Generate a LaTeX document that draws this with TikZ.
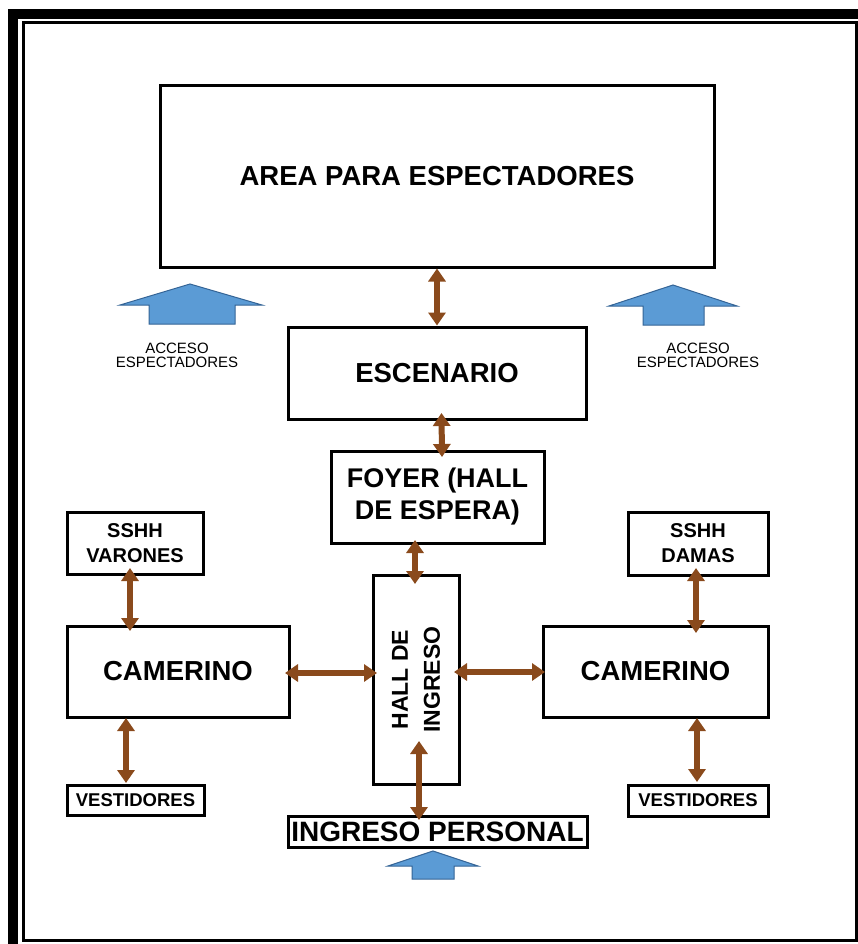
\documentclass[tikz,border=0pt]{standalone}
\usepackage{fontspec}
\setmainfont{Liberation Sans}
\usetikzlibrary{arrows.meta,calc}
\definecolor{brownarr}{RGB}{138,74,28}
\definecolor{bluefill}{RGB}{91,155,213}
\definecolor{blueedge}{RGB}{52,100,150}
\tikzset{
  box/.style={draw=black, line width=3pt, fill=white, inner sep=0pt, align=center, font=\bfseries\fontsize{27.5}{32}\selectfont},
  smallbox/.style={box, font=\bfseries\fontsize{20}{25}\selectfont},
  vestbox/.style={box, font=\bfseries\fontsize{18.5}{25}\selectfont},
  link/.style={draw=brownarr, line width=6pt, {Triangle[width=17pt,length=13pt]}-{Triangle[width=17pt,length=13pt]}},
  uparrow/.style={fill=bluefill, draw=blueedge, line width=1pt, line join=miter},
  acc/.style={font=\fontsize{15}{14.5}\selectfont, align=center, inner sep=0pt}
}
\begin{document}
\begin{tikzpicture}[x=1pt,y=-1pt]
\useasboundingbox (0,0) rectangle (858,944);
\fill[white] (0,0) rectangle (858,944);
% frame
\draw[line width=9.5pt] (12.8,14) rectangle (880,970);
\draw[line width=3pt] (23.5,22.5) rectangle (856.5,940.5);

% boxes
\node[box, minimum width=554pt, minimum height=181pt] (area) at (437,176.5) {AREA PARA ESPECTADORES};
\node[box, minimum width=298pt, minimum height=92pt] (esc) at (437,373) {ESCENARIO};
\node[box, minimum width=213pt, minimum height=92pt, font=\bfseries\fontsize{27}{32}\selectfont] (foyer) at (437.5,497) {FOYER (HALL\\DE ESPERA)};
\node[box, minimum width=86pt, minimum height=209pt] (hall) at (416,679.5) {};
\node[font=\bfseries\fontsize{23}{32}\selectfont, align=center, rotate=90, inner sep=0pt] (halltxt) at (hall.center) {HALL DE\\INGRESO};
\node[smallbox, minimum width=136pt, minimum height=62pt] (sshhv) at (135,543) {SSHH\\VARONES};
\node[box, minimum width=222pt, minimum height=91pt] (camL) at (178,671.5) {CAMERINO};
\node[vestbox, minimum width=137pt, minimum height=30pt] (vestL) at (135.5,800) {VESTIDORES};
\node[smallbox, minimum width=140pt, minimum height=63pt] (sshhd) at (698,543.5) {SSHH\\DAMAS};
\node[box, minimum width=225pt, minimum height=91pt] (camR) at (655.5,671.5) {CAMERINO};
\node[vestbox, minimum width=140pt, minimum height=31pt] (vestR) at (698,800.5) {VESTIDORES};
\node[box, minimum width=299pt, minimum height=31pt, font=\bfseries\fontsize{28}{32}\selectfont] (ing) at (437.5,831.5) {INGRESO PERSONAL};

% access labels
\node[acc] (accL) at (177,355.5) {ACCESO\\ESPECTADORES};
\node[acc] (accR) at (698,355.5) {ACCESO\\ESPECTADORES};

% blue up arrows
\draw[uparrow] (190,284) -- (262,305) -- (235,305) -- (235,324) -- (149,324) -- (149,305) -- (120,305) -- cycle;
\draw[uparrow] (673,285) -- (737,306) -- (704,306) -- (704,325) -- (643,325) -- (643,306) -- (609,306) -- cycle;
\draw[uparrow] (433,851) -- (478,866) -- (454,866) -- (454,879) -- (412,879) -- (412,866) -- (388,866) -- cycle;

% brown links (offsets in picture units, y grows downward)
\draw[link] (area.south) -- (esc.north);
\draw[link] ($(esc.south)+(4.5,-7.5)$) -- ($(foyer.north)+(4.5,7.5)$);
\draw[link] ($(foyer.south)+(-22.5,-4.5)$) -- ($(hall.north)+(-1,10.5)$);
\draw[link] ($(camL.east)+(-5.5,1.5)$) -- ($(hall.west)+(5.5,-6.5)$);
\draw[link] ($(hall.east)+(-6.5,-7.5)$) -- ($(camR.west)+(3.5,0.5)$);
\draw[link] ($(hall.south)+(3,-44.5)$) -- ($(ing.north)+(-18.5,5.5)$);
\draw[link] ($(sshhv.south)+(-5,-7.5)$) -- ($(camL.north)+(-48,6.5)$);
\draw[link] ($(camL.south)+(-52,-0.5)$) -- ($(vestL.north)+(-9.5,-0.5)$);
\draw[link] ($(sshhd.south)+(-2,-8.5)$) -- ($(camR.north)+(40.5,8.5)$);
\draw[link] ($(camR.south)+(41.5,-0.5)$) -- ($(vestR.north)+(-1,-1.5)$);
\end{tikzpicture}
\end{document}
